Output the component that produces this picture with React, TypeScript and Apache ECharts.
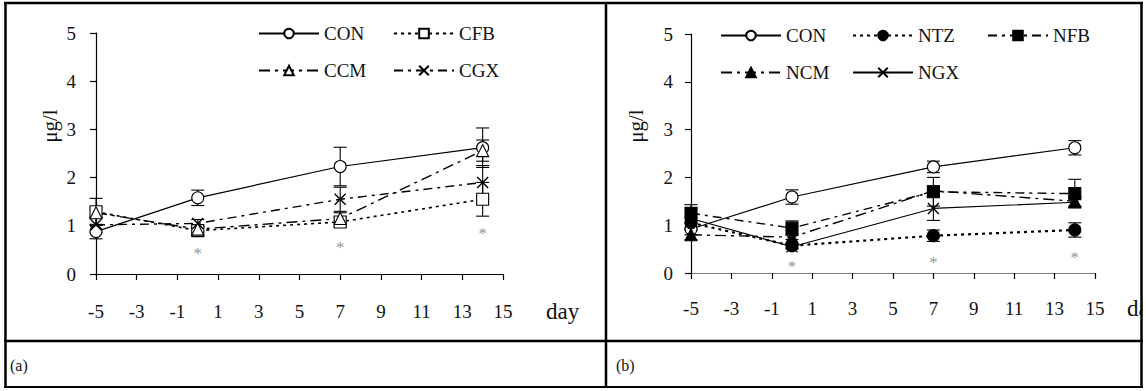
import React, { useEffect, useRef } from "react";
import * as echarts from "echarts";

// ---- data ----
const days = [-5, 0, 7, 14];
const starDays = [0, 7, 14];

// panel (a)
const aCON = [0.88, 1.58, 2.23, 2.62];
const aCONerr = [0.15, 0.16, 0.4, 0.41];
const aCFB = [1.29, 0.9, 1.08, 1.55];
const aCFBerr = [0.28, 0.1, 0.1, 0.35];
const aCCM = [1.27, 0.93, 1.15, 2.56];
const aCCMerr = [0.1, 0.06, 0.12, 0.22];
const aCGX = [1.02, 1.05, 1.55, 1.9];
const aCGXerr = [0.15, 0.08, 0.25, 0.35];
const aStars = [0.43, 0.54, 0.85];

// panel (b)
const bCON = [0.92, 1.59, 2.22, 2.62];
const bCONerr = [0.12, 0.15, 0.12, 0.15];
const bNTZ = [1.05, 0.57, 0.78, 0.9];
const bNTZerr = [0.1, 0.05, 0.12, 0.15];
const bNFB = [1.25, 0.94, 1.7, 1.66];
const bNFBerr = [0.18, 0.15, 0.3, 0.3];
const bNCM = [0.8, 0.75, 1.72, 1.5];
const bNCMerr = [0.1, 0.05, 0.1, 0.1];
const bNGX = [1.14, 0.55, 1.35, 1.48];
const bNGXerr = [0.22, 0.05, 0.25, 0.1];
const bStars = [0.13, 0.23, 0.33];

const FONT = "'Liberation Serif', 'Times New Roman', serif";
const crossPath = "path://M0,0L10,10M0,10L10,0";

function pts(v: number[]) {
  return days.map((d, i) => [d, v[i]]);
}
function errPts(v: number[], e: number[]) {
  return days.map((d, i) => [d, v[i] - e[i], v[i] + e[i]]);
}

function errRender(params: any, api: any) {
  const x = api.value(0);
  const p1 = api.coord([x, api.value(1)]);
  const p2 = api.coord([x, api.value(2)]);
  const w = 6.5;
  const st = { stroke: "#000", lineWidth: 1.1 };
  return {
    type: "group",
    children: [
      { type: "line", shape: { x1: p1[0], y1: p1[1], x2: p2[0], y2: p2[1] }, style: st },
      { type: "line", shape: { x1: p1[0] - w, y1: p1[1], x2: p1[0] + w, y2: p1[1] }, style: st },
      { type: "line", shape: { x1: p2[0] - w, y1: p2[1], x2: p2[0] + w, y2: p2[1] }, style: st },
    ],
  };
}

type Spec = {
  name: string;
  data: number[];
  err: number[];
  symbol: string;
  filled: boolean;
  dash: any;
  width: number;
};

const aSpecs: Spec[] = [
  { name: "CON", data: aCON, err: aCONerr, symbol: "circle", filled: false, dash: "solid", width: 1.2 },
  { name: "CFB", data: aCFB, err: aCFBerr, symbol: "rect", filled: false, dash: [3, 4], width: 1.6 },
  { name: "CCM", data: aCCM, err: aCCMerr, symbol: "triangle", filled: false, dash: [11, 5, 3, 5], width: 1.4 },
  { name: "CGX", data: aCGX, err: aCGXerr, symbol: crossPath, filled: false, dash: [9, 5, 3, 5], width: 1.4 },
];
const bSpecs: Spec[] = [
  { name: "CON", data: bCON, err: bCONerr, symbol: "circle", filled: false, dash: "solid", width: 1.2 },
  { name: "NTZ", data: bNTZ, err: bNTZerr, symbol: "circle", filled: true, dash: [3, 4], width: 2.2 },
  { name: "NFB", data: bNFB, err: bNFBerr, symbol: "rect", filled: true, dash: [9, 5, 3, 5], width: 1.4 },
  { name: "NCM", data: bNCM, err: bNCMerr, symbol: "triangle", filled: true, dash: [11, 5, 3, 5], width: 1.4 },
  { name: "NGX", data: bNGX, err: bNGXerr, symbol: crossPath, filled: false, dash: "solid", width: 1.2 },
];

function lineSeries(s: Spec, idx: number) {
  const isCross = s.symbol === crossPath;
  return {
    type: "line",
    name: s.name,
    id: "l" + idx + s.name,
    xAxisIndex: idx,
    yAxisIndex: idx,
    data: pts(s.data),
    symbol: s.symbol,
    symbolSize: isCross ? 11 : 12,
    showSymbol: true,
    z: 3,
    lineStyle: { color: "#000", width: s.width, type: s.dash },
    itemStyle: {
      color: s.filled ? "#000" : isCross ? "rgba(0,0,0,0)" : "#fff",
      borderColor: "#000",
      borderWidth: isCross ? 1.4 : 1.1,
      opacity: 1,
    },
    emphasis: { disabled: true },
  };
}

function errSeries(s: Spec, idx: number) {
  return {
    type: "custom",
    name: s.name + "_err",
    xAxisIndex: idx,
    yAxisIndex: idx,
    renderItem: errRender,
    data: errPts(s.data, s.err),
    encode: { x: 0, y: [1, 2] },
    z: 2,
    silent: true,
  };
}

function starSeries(vals: number[], idx: number) {
  return {
    type: "scatter",
    name: "stars" + idx,
    xAxisIndex: idx,
    yAxisIndex: idx,
    data: starDays.map((d, i) => [d, vals[i]]),
    symbolSize: 1,
    itemStyle: { color: "rgba(0,0,0,0)" },
    label: {
      show: true,
      position: "inside",
      formatter: "*",
      fontFamily: FONT,
      fontSize: 17,
      color: "#7a7a7a",
      verticalAlign: "middle",
    },
    z: 4,
    silent: true,
  };
}

function legendItem(name: string, left: number, top: number) {
  return {
    data: [name],
    left,
    top,
    itemWidth: 60,
    itemHeight: 12,
    itemGap: 0,
    padding: 0,
    selectedMode: false,
    textStyle: { fontFamily: FONT, fontSize: 19, color: "#111" },
  };
}

function xAxis(idx: number, color: string, margin: number) {
  return {
    type: "value",
    gridIndex: idx,
    min: -5,
    max: 15,
    interval: 2,
    splitLine: { show: false },
    axisLine: { show: true, onZero: false, lineStyle: { color, width: 1.2 } },
    axisTick: { show: true, inside: false, length: 6, lineStyle: { color: "#000", width: 1.2 } },
    axisLabel: { margin, fontFamily: FONT, fontSize: 19, color: "#111" },
  };
}

function yAxis(idx: number, margin: number) {
  return {
    type: "value",
    gridIndex: idx,
    min: 0,
    max: 5,
    interval: 1,
    splitLine: { show: false },
    axisLine: { show: true, onZero: false, lineStyle: { color: "#000", width: 1.2 } },
    axisTick: { show: true, inside: false, length: 6, lineStyle: { color: "#000", width: 1.2 } },
    axisLabel: { margin, fontFamily: FONT, fontSize: 19, color: "#111" },
  };
}

export default function App() {
  const ref = useRef<HTMLDivElement>(null);
  useEffect(() => {
    if (!ref.current) return;
    const chart = echarts.init(ref.current, undefined, { renderer: "svg" });
    const line = (x1: number, y1: number, x2: number, y2: number, w: number) => ({
      type: "line",
      shape: { x1, y1, x2, y2 },
      style: { stroke: "#000", lineWidth: w },
      z: 100,
      silent: true,
    });
    const txt = (text: string, x: number, y: number, size: number, rot = 0) => ({
      type: "text",
      x,
      y,
      rotation: rot,
      style: {
        text,
        fontFamily: FONT,
        fontSize: size,
        fill: "#111",
        align: rot ? "center" : "left",
        verticalAlign: "middle",
      },
    });
    const option: any = {
      animation: false,
      backgroundColor: "#fff",
      grid: [
        { left: 96, top: 33, width: 407, height: 241 },
        { left: 691, top: 34, width: 404, height: 239 },
      ],
      xAxis: [xAxis(0, "#000", 28), xAxis(1, "#7a7a7a", 26)],
      yAxis: [yAxis(0, 20), yAxis(1, 18)],
      legend: [
        legendItem("CON", 258, 24),
        legendItem("CFB", 393, 24),
        legendItem("CCM", 258, 61),
        legendItem("CGX", 393, 61),
        legendItem("CON", 720, 26),
        legendItem("NTZ", 852, 26),
        legendItem("NFB", 987, 26),
        legendItem("NCM", 720, 63),
        legendItem("NGX", 852, 63),
      ].map((l, i) => ({ ...l, id: "lg" + i })),
      series: [
        ...aSpecs.map((s) => errSeries(s, 0)),
        ...aSpecs.map((s) => lineSeries(s, 0)),
        starSeries(aStars, 0),
        ...bSpecs.map((s) => errSeries(s, 1)),
        ...bSpecs.map((s) => lineSeries(s, 1)),
        starSeries(bStars, 1),
      ],
      graphic: [
        line(4, 3, 1143, 3, 2.5),
        line(5.5, 2, 5.5, 388, 2.5),
        line(606, 2, 606, 388, 2.5),
        line(1141.5, 2, 1141.5, 388, 2.5),
        line(4, 341, 1143, 341, 2.5),
        line(4, 387, 1143, 387, 2),
        txt("μg/l", 50, 126, 21, Math.PI / 2),
        txt("μg/l", 636, 126, 21, Math.PI / 2),
        txt("day", 546, 311, 23),
        txt("day", 1127, 308, 23),
        { type: "rect", shape: { x: 1142.8, y: 0, width: 10, height: 391 }, style: { fill: "#fff" }, z: 99 },
        txt("(a)", 10, 365, 16),
        txt("(b)", 616, 365, 16),
      ],
    };
    chart.setOption(option);
    return () => chart.dispose();
  }, []);
  return (
    <div
      ref={ref}
      style={{ position: "absolute", left: 0, top: 0, width: 1146, height: 391, background: "#fff" }}
    />
  );
}
